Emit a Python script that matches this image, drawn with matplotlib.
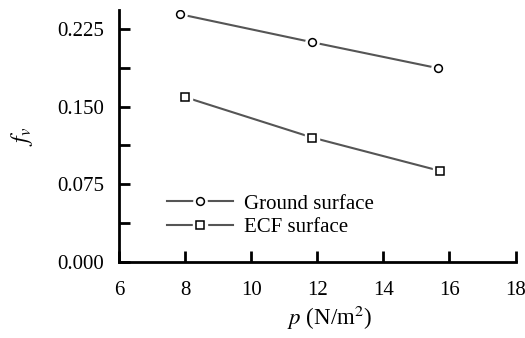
import numpy as np
import matplotlib; matplotlib.use("Agg")
import matplotlib.pyplot as plt
from matplotlib.ticker import MultipleLocator, FormatStrFormatter
from matplotlib.legend_handler import HandlerTuple

plt.rcParams["font.family"] = ["Liberation Serif", "DejaVu Serif"]
plt.rcParams["mathtext.fontset"] = "stix"

# values
p_ground = [7.85, 11.85, 15.65]
fv_ground = [0.239, 0.212, 0.187]
p_ecf = [8.0, 11.85, 15.7]
fv_ecf = [0.159, 0.120, 0.088]
labels = ["Ground surface", "ECF surface"]

fig = plt.figure(figsize=(5.25, 3.38), dpi=100)
ax = fig.add_axes([0.227, 0.225, 0.755, 0.745])

LC = "#555555"
handles = []
for x, y, m in [(p_ground, fv_ground, "o"), (p_ecf, fv_ecf, "s")]:
    ln, = ax.plot(x, y, "-", color=LC, lw=1.5, zorder=2)
    gap, = ax.plot(x, y, m, ls="none", ms=9.5, mfc="white", mec="white", zorder=3)
    mk, = ax.plot(x, y, m, ls="none", ms=5.6, mfc="white", mec="black", mew=1.1, zorder=4)
    handles.append((ln, gap, mk))

ax.legend(handles, labels, handler_map={tuple: HandlerTuple(ndivide=1)},
          frameon=False, fontsize=15, handlelength=3.2, handletextpad=0.5,
          labelspacing=0.2, loc="upper left", bbox_to_anchor=(0.12, 0.27),
          borderaxespad=0, borderpad=0)

ax.set_xlim(6, 18)
ax.set_ylim(0, 0.243)
ax.xaxis.set_major_locator(MultipleLocator(2))
ax.yaxis.set_major_locator(MultipleLocator(0.075))
ax.yaxis.set_minor_locator(MultipleLocator(0.0375))
ax.yaxis.set_major_formatter(FormatStrFormatter("%.3f"))
for s in ["top", "right"]:
    ax.spines[s].set_visible(False)
for s in ["left", "bottom"]:
    ax.spines[s].set_linewidth(2)
ax.tick_params(which="both", direction="in", length=8, width=2, labelsize=15)
ax.tick_params(axis="y", pad=11)
ax.tick_params(axis="x", pad=14)
ax.set_xlabel(r"$p$ (N/m$^2$)", fontsize=16.5)
ax.xaxis.set_label_coords(0.53, -0.165)
ax.set_ylabel(r"$f_v$", fontsize=17, labelpad=16)

fig.savefig("out.png", dpi=100)
